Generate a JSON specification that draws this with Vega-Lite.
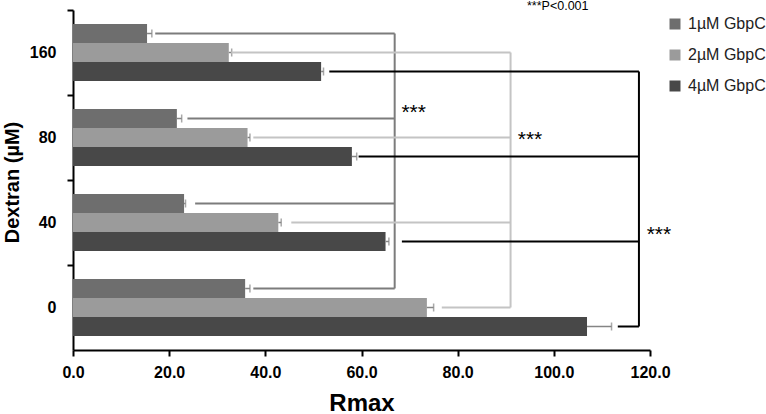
{
  "$schema": "https://vega.github.io/schema/vega-lite/v6.json",
  "width": 577,
  "height": 340,
  "autosize": {"type": "none"},
  "padding": {"left": 73, "top": 10, "right": 116, "bottom": 64},
  "title": {"text": "***P<0.001", "anchor": "start", "frame": "group", "dx": 454, "offset": -3, "fontSize": 12.5, "fontWeight": "normal", "font": "Liberation Sans", "color": "#000"},
  "config": {
    "view": {"stroke": null},
    "font": "Liberation Sans",
    "axis": {"grid": false, "domainColor": "#000", "domainWidth": 2, "tickColor": "#000", "tickWidth": 2, "tickSize": 6, "labelColor": "#000", "titleColor": "#000", "labelFont": "Liberation Sans", "titleFont": "Liberation Sans"}
  },
  "datasets": {
    "bars": [
      {"dextran": "160", "series": "1µM GbpC", "rmax": 15.4, "hi": 16.4},
      {"dextran": "160", "series": "2µM GbpC", "rmax": 32.4, "hi": 33.0},
      {"dextran": "160", "series": "4µM GbpC", "rmax": 51.6, "hi": 52.1},
      {"dextran": "80", "series": "1µM GbpC", "rmax": 21.6, "hi": 22.6},
      {"dextran": "80", "series": "2µM GbpC", "rmax": 36.3, "hi": 36.8},
      {"dextran": "80", "series": "4µM GbpC", "rmax": 58.0, "hi": 59.0},
      {"dextran": "40", "series": "1µM GbpC", "rmax": 23.1, "hi": 23.4},
      {"dextran": "40", "series": "2µM GbpC", "rmax": 42.7, "hi": 43.3},
      {"dextran": "40", "series": "4µM GbpC", "rmax": 65.0, "hi": 65.7},
      {"dextran": "0", "series": "1µM GbpC", "rmax": 35.8, "hi": 36.8},
      {"dextran": "0", "series": "2µM GbpC", "rmax": 73.6, "hi": 75.0},
      {"dextran": "0", "series": "4µM GbpC", "rmax": 106.9, "hi": 112.0}
    ],
    "brackets": [
      {"seg": "a160", "series": "1µM GbpC", "dextran": "160", "x": 17.1},
      {"seg": "a160", "series": "1µM GbpC", "dextran": "160", "x": 66.9},
      {"seg": "a80", "series": "1µM GbpC", "dextran": "80", "x": 23.8},
      {"seg": "a80", "series": "1µM GbpC", "dextran": "80", "x": 66.9},
      {"seg": "a40", "series": "1µM GbpC", "dextran": "40", "x": 25.4},
      {"seg": "a40", "series": "1µM GbpC", "dextran": "40", "x": 66.9},
      {"seg": "a0", "series": "1µM GbpC", "dextran": "0", "x": 37.5},
      {"seg": "a0", "series": "1µM GbpC", "dextran": "0", "x": 66.9},
      {"seg": "av", "series": "1µM GbpC", "dextran": "160", "x": 66.9},
      {"seg": "av", "series": "1µM GbpC", "dextran": "0", "x": 66.9},
      {"seg": "b160", "series": "2µM GbpC", "dextran": "160", "x": 32.9},
      {"seg": "b160", "series": "2µM GbpC", "dextran": "160", "x": 91.0},
      {"seg": "b80", "series": "2µM GbpC", "dextran": "80", "x": 37.5},
      {"seg": "b80", "series": "2µM GbpC", "dextran": "80", "x": 91.0},
      {"seg": "b40", "series": "2µM GbpC", "dextran": "40", "x": 45.4},
      {"seg": "b40", "series": "2µM GbpC", "dextran": "40", "x": 91.0},
      {"seg": "b0", "series": "2µM GbpC", "dextran": "0", "x": 76.7},
      {"seg": "b0", "series": "2µM GbpC", "dextran": "0", "x": 91.0},
      {"seg": "bv", "series": "2µM GbpC", "dextran": "160", "x": 91.0},
      {"seg": "bv", "series": "2µM GbpC", "dextran": "0", "x": 91.0},
      {"seg": "c160", "series": "4µM GbpC", "dextran": "160", "x": 53.3},
      {"seg": "c160", "series": "4µM GbpC", "dextran": "160", "x": 117.7},
      {"seg": "c80", "series": "4µM GbpC", "dextran": "80", "x": 59.4},
      {"seg": "c80", "series": "4µM GbpC", "dextran": "80", "x": 117.7},
      {"seg": "c40", "series": "4µM GbpC", "dextran": "40", "x": 68.4},
      {"seg": "c40", "series": "4µM GbpC", "dextran": "40", "x": 117.7},
      {"seg": "c0", "series": "4µM GbpC", "dextran": "0", "x": 113.3},
      {"seg": "c0", "series": "4µM GbpC", "dextran": "0", "x": 117.7},
      {"seg": "cv", "series": "4µM GbpC", "dextran": "160", "x": 117.7},
      {"seg": "cv", "series": "4µM GbpC", "dextran": "0", "x": 117.7}
    ],
    "starsA": [
      {"dextran": "80", "series": "1µM GbpC", "x": 68.3, "label": "***"},
      {"dextran": "40", "series": "4µM GbpC", "x": 119.3, "label": "***"}
    ],
    "starsB": [
      {"dextran": "80", "series": "2µM GbpC", "x": 92.5, "label": "***"}
    ]
  },
  "encoding": {
    "y": {"field": "dextran", "type": "nominal", "scale": {"domain": ["160", "80", "40", "0"], "paddingInner": 0, "paddingOuter": 0},
      "axis": {"bandPosition": 0, "labelFontSize": 16, "labelFontWeight": "bold", "labelPadding": 11, "title": "Dextran (µM)", "titleFontSize": 20, "titleFontWeight": "bold", "titleX": -61, "titleY": 172, "titleBaseline": "middle", "titleAlign": "center", "titleAngle": 270}},
    "yOffset": {"field": "series", "type": "nominal", "scale": {"domain": ["1µM GbpC", "2µM GbpC", "4µM GbpC"], "paddingInner": 0, "paddingOuter": 0.737}}
  },
  "layer": [
    {
      "data": {"name": "bars"},
      "mark": {"type": "bar"},
      "encoding": {
        "x": {"field": "rmax", "type": "quantitative", "scale": {"domain": [0, 120], "nice": false},
          "axis": {"values": [0, 20, 40, 60, 80, 100, 120], "format": ".1f", "labelFontSize": 16, "labelFontWeight": "bold", "labelPadding": 8, "labelFlush": false, "title": "Rmax", "titleFontSize": 24, "titleFontWeight": "bold", "titlePadding": 11}},
        "fill": {"field": "series", "type": "nominal", "scale": {"domain": ["1µM GbpC", "2µM GbpC", "4µM GbpC"], "range": ["#6e6e6e", "#9b9b9b", "#484848"]},
          "legend": {"title": null, "orient": "none", "legendX": 594, "legendY": 6, "symbolType": "square", "symbolSize": 121, "symbolStrokeWidth": 0, "labelFontSize": 16, "labelColor": "#222", "labelOffset": 5, "rowPadding": 15}}
      }
    },
    {
      "data": {"name": "bars"},
      "mark": {"type": "rule", "color": "#858585", "strokeWidth": 1.5},
      "encoding": {"x": {"field": "rmax", "type": "quantitative"}, "x2": {"field": "hi"}}
    },
    {
      "data": {"name": "bars"},
      "mark": {"type": "tick", "color": "#858585", "thickness": 1.5, "size": 8, "orient": "vertical"},
      "encoding": {"x": {"field": "hi", "type": "quantitative"}}
    },
    {
      "data": {"name": "brackets"},
      "mark": {"type": "line", "strokeWidth": 2},
      "encoding": {
        "x": {"field": "x", "type": "quantitative"},
        "detail": {"field": "seg", "type": "nominal"},
        "stroke": {"field": "series", "type": "nominal", "scale": {"domain": ["1µM GbpC", "2µM GbpC", "4µM GbpC"], "range": ["#7c7c7c", "#c4c4c4", "#000000"]}, "legend": null}
      }
    },
    {
      "data": {"name": "starsA"},
      "mark": {"type": "text", "align": "left", "baseline": "middle", "fontSize": 21, "dy": -6, "color": "#000"},
      "encoding": {"x": {"field": "x", "type": "quantitative"}, "text": {"field": "label"}}
    },
    {
      "data": {"name": "starsB"},
      "mark": {"type": "text", "align": "left", "baseline": "middle", "fontSize": 21, "dy": 2, "color": "#000"},
      "encoding": {"x": {"field": "x", "type": "quantitative"}, "text": {"field": "label"}}
    }
  ]
}
